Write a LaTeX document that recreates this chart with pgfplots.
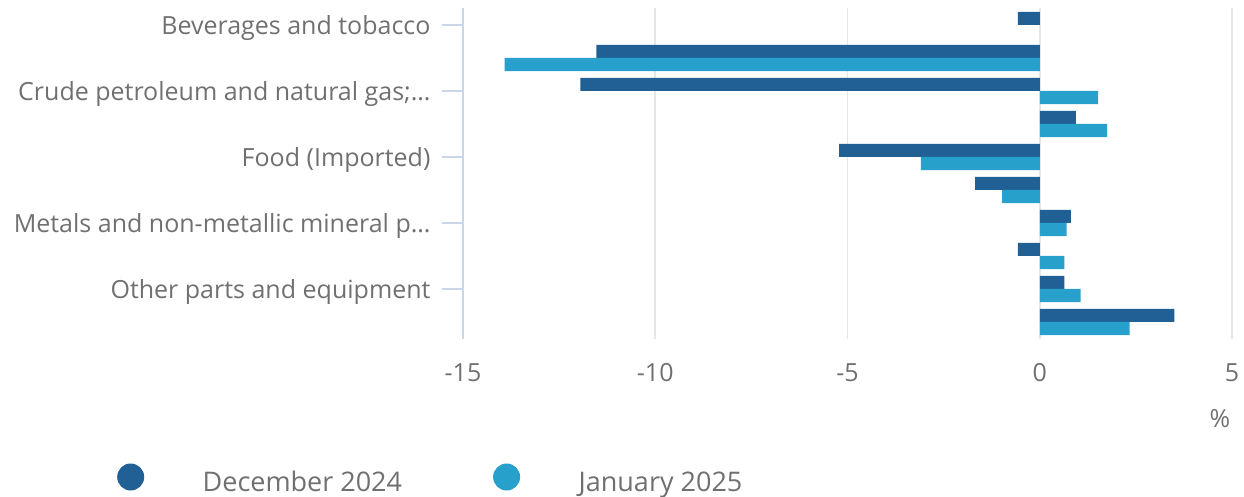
\documentclass[border=0pt]{standalone}
\usepackage{fontspec}
\setmainfont{Open Sans}
\usepackage{pgfplots}
\pgfplotsset{compat=1.18}
\definecolor{dark}{HTML}{206095}
\definecolor{light}{HTML}{27A0CC}
\definecolor{txt}{HTML}{707071}
\definecolor{axc}{HTML}{CCD6EB}
\definecolor{grd}{HTML}{E6E6E6}
\begin{document}
\begin{tikzpicture}
\path[use as bounding box] (-463pt,-158.5pt) rectangle (781pt,338.5pt);
\begin{axis}[
  at={(0pt,0pt)}, anchor=south west,
  scale only axis, width=769pt, height=330pt,
  xbar, bar width=0.4, bar shift=0pt,
  xmin=-15, xmax=5, ymin=-0.5, ymax=9.5,
  xtick={-15,-10,-5,0,5},
  ytick={1,3,5,7,9},
  yticklabels={Other parts and equipment, Metals and non-metallic mineral p…, Food (Imported), Crude petroleum and natural gas;…, Beverages and tobacco},
  axis lines*=left,
  x axis line style={draw=none},
  y axis line style={draw=axc, line width=1.5pt},
  xtick style={draw=none},
  ytick style={draw=axc, line width=1.5pt},
  tick align=outside, major tick length=21pt,
  xmajorgrids, x grid style={draw=grd, line width=1.5pt},
  /pgf/number format/assume math mode=true,
  tick label style={text=txt},
  xticklabel style={font=\fontsize{25}{30}\selectfont, anchor=center, yshift=-13.5pt},
  yticklabel style={font=\fontsize{25}{30}\selectfont, anchor=base east, xshift=-8pt, yshift=-10pt},
  xlabel={\%},
  every axis x label/.style={at={(axis description cs:1,0)}, anchor=center, xshift=-12pt, yshift=-80.5pt, font=\fontsize{25}{30}\selectfont, text=txt},
  legend columns=2,
  legend cell align=left,
  legend image code/.code={\fill[#1, draw=none] (0pt,14pt) circle (13.5pt);},
  legend style={at={(axis description cs:0,0)}, anchor=north west, xshift=-345.8pt, yshift=-125pt,
    draw=none, fill=none, inner sep=0pt, outer sep=0pt,
    cells={anchor=base west},
    nodes={inner sep=0pt, font=\fontsize{27}{32}\selectfont, text=txt},
    /tikz/every odd column/.append style={column sep=58.5pt},
    /tikz/every even column/.append style={column sep=91pt}},
]
\addplot[fill=dark, draw=none] coordinates {
  (-0.57,9.2) (-11.53,8.2) (-11.95,7.2) (0.94,6.2) (-5.22,5.2)
  (-1.68,4.2) (0.81,3.2) (-0.57,2.2) (0.64,1.2) (3.50,0.2)};
\addlegendentry{December 2024}
\addplot[fill=light, draw=none] coordinates {
  (-13.92,7.8) (1.52,6.8) (1.75,5.8) (-3.09,4.8)
  (-0.98,3.8) (0.70,2.8) (0.64,1.8) (1.06,0.8) (2.34,-0.2)};
\addlegendentry{January 2025}
\end{axis}
\end{tikzpicture}
\end{document}
